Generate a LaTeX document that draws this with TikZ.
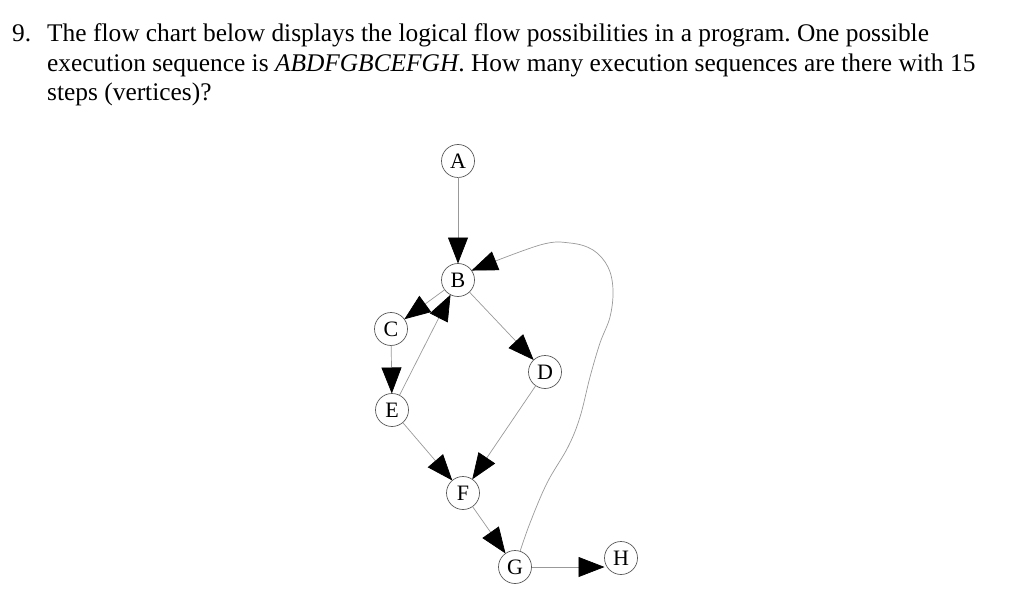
\documentclass[tikz,border=0pt]{standalone}
\usepackage{fontspec}
\setmainfont{Liberation Serif}
\usetikzlibrary{arrows.meta}
\frenchspacing
\begin{document}
\begin{tikzpicture}[x=1pt,y=1pt,
  vtx/.style={circle,draw=black!65,line width=0.7pt,minimum size=33pt,inner sep=0pt,outer sep=0pt,font=\fontsize{22}{22}\selectfont},
  edge/.style={draw=black!40,line width=0.7pt,-{Triangle[length=26pt,width=20pt,color=black,fill=black]}},
  txt/.style={anchor=base west,inner sep=0pt,font=\fontsize{25.4}{29}\selectfont}]
\useasboundingbox (0,0) rectangle (1024,614);
% question text
\node[txt] (num) at (12,572) {9.};
\node[txt] (l1) at (47,572) {The flow chart below displays the logical flow possibilities in a program. One possible};
\node[txt] (l2) at (47,542.5) {execution sequence is \textit{ABDFGBCEFGH}. How many execution sequences are there with 15};
\node[txt] (l3) at (47,513) {steps (vertices)?};
% vertices
\node[vtx] (A) at (458,453) {A};
\node[vtx] (B) at (458,334) {B};
\node[vtx] (C) at (391,285) {C};
\node[vtx] (D) at (545,242) {D};
\node[vtx] (E) at (392,204) {E};
\node[vtx] (F) at (463,121) {F};
\node[vtx] (G) at (515,47) {G};
\node[vtx] (H) at (621,56) {H};
% edges
\draw[edge] (A) -- (B);
\draw[edge] (B) -- (C);
\draw[edge] (E) -- (B);
\draw[edge] (C) -- (E);
\draw[edge] (B) -- (D);
\draw[edge] (D) -- (F);
\draw[edge] (E) -- (F);
\draw[edge] (F) -- (G);
\draw[edge] (G.east) -- (G.east -| H.west);
\draw[edge] plot[smooth,tension=0.6] coordinates {(G.72) (530,91) (547,131) (568,167) (580,197) (590,237) (600,271) (610,297) (613,324) (608,347) (593,364) (570,371) (540,369) (B.35)};
\end{tikzpicture}
\end{document}
